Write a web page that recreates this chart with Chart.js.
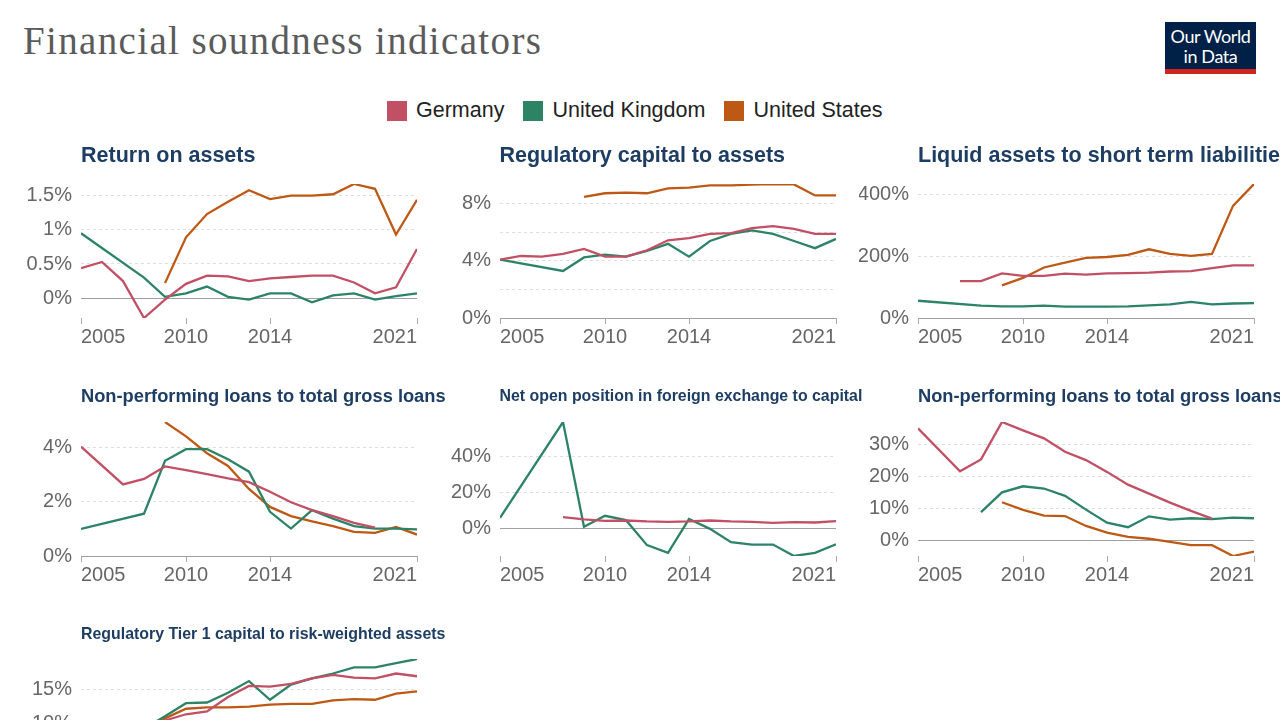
<!DOCTYPE html>
<html>
<head>
<meta charset="utf-8">
<script src="https://cdn.jsdelivr.net/npm/chart.js@4.4.1/dist/chart.umd.min.js"></script>
<style>
html,body{margin:0;padding:0;width:1280px;height:720px;overflow:hidden;background:#fff;font-family:"Liberation Sans",Arial,sans-serif;}
#title{position:absolute;left:23px;top:18px;font-family:"Liberation Serif",serif;font-size:39px;letter-spacing:1.35px;color:#5b5b5b;line-height:1.2;white-space:nowrap;}
#logo{position:absolute;left:1165px;top:22px;width:91px;height:52px;background:#002147;color:#fff;font-family:Lato,sans-serif;font-size:18px;line-height:20px;text-align:center;box-sizing:border-box;padding-top:4px;letter-spacing:-0.4px;}
#logo .bar{position:absolute;left:0;right:0;bottom:0;height:5px;background:#ce261e;}
#legend{position:absolute;left:387px;top:98px;display:flex;align-items:center;font-size:21.5px;color:#222;white-space:nowrap;}
#legend .sw{width:20px;height:20px;margin-right:9px;}
#legend .it{display:flex;align-items:center;margin-right:19px;}
.ptitle{position:absolute;font-weight:bold;color:#1d3d63;white-space:nowrap;line-height:1.2;}
.panel{position:absolute;width:400px;height:189px;}
</style>
</head>
<body>
<div id="title">Financial soundness indicators</div>
<div id="logo">Our World<br>in Data<div class="bar"></div></div>
<div id="legend"></div>
<div id="panels"></div>
<script>
// ---- Data ----
const years = [2005,2006,2007,2008,2009,2010,2011,2012,2013,2014,2015,2016,2017,2018,2019,2020,2021];
const countries = ["Germany","United Kingdom","United States"];
const countryColors = ["#c15065","#2c8465","#be5915"];
const xTickYears = [2005,2010,2014,2021];

// Return on assets (%)
const roaGermany = [0.44,0.53,0.25,-0.29,-0.02,0.21,0.33,0.32,0.25,0.29,0.31,0.33,0.33,0.23,0.07,0.16,0.72];
const roaUK      = [0.95,null,null,0.30,0.02,0.07,0.17,0.02,-0.02,0.07,0.07,-0.06,0.04,0.07,-0.02,0.03,0.07];
const roaUS      = [null,null,null,null,0.22,0.89,1.23,1.41,1.58,1.45,1.50,1.50,1.52,1.67,1.60,0.93,1.44];

// Regulatory capital to assets (%)
const capGermany = [4.1,4.35,4.3,4.5,4.85,4.3,4.3,4.75,5.45,5.6,5.9,5.95,6.3,6.45,6.25,5.9,5.9];
const capUK      = [4.1,null,null,3.3,4.25,4.45,4.3,4.7,5.2,4.3,5.4,5.9,6.15,5.9,5.4,4.9,5.55];
const capUS      = [null,null,null,null,8.5,8.75,8.8,8.75,9.1,9.15,9.3,9.3,9.35,9.4,9.37,8.6,8.6];

// Liquid assets to short term liabilities (%)
const liqGermany = [null,null,120,120,145,137,137,144,141,145,146,147,151,152,162,171,171];
const liqUK      = [56,null,null,40,38,38,40,37,37,37,38,41,44,52,44,47,48];
const liqUS      = [null,null,null,null,106,130,164,180,195,198,205,223,208,202,208,364,435];

// Non-performing loans to total gross loans (%)
const nplGermany = [4.03,null,2.64,2.84,3.3,3.17,3.02,2.86,2.72,2.37,1.98,1.69,1.47,1.22,1.05,null,null];
const nplUK      = [1.0,null,null,1.56,3.51,3.94,3.94,3.57,3.11,1.63,1.01,1.69,1.38,1.1,1.01,1.01,0.98];
const nplUS      = [null,null,null,null,4.94,4.41,3.79,3.32,2.47,1.81,1.47,1.28,1.1,0.89,0.85,1.07,0.79];

// Net open position in foreign exchange to capital (%)
const fxGermany = [null,null,null,6.5,5.2,4.4,4.6,4.1,3.9,4.1,4.6,4.1,3.9,3.3,3.7,3.5,4.3];
const fxUK      = [6.1,null,null,59,1.1,7.2,4.8,-9,-13.3,5.4,0,-7.4,-8.7,-8.7,-15,-13.3,-8.5];

// Non-performing loans net of provisions to capital (%)
const nplCapGermany = [34.9,null,21.5,25.2,36.9,34.3,31.8,27.6,25.0,21.3,17.3,14.5,11.7,9.1,6.7,null,null];
const nplCapUK      = [null,null,null,8.7,14.9,16.8,16.1,13.8,9.5,5.4,4.0,7.4,6.4,6.8,6.5,7.0,6.8];
const nplCapUS      = [null,null,null,null,11.8,9.4,7.6,7.5,4.4,2.3,1.0,0.4,-0.6,-1.6,-1.6,-5.0,-3.6];

// Regulatory Tier 1 capital to risk-weighted assets (%)
const t1Germany = [null,null,null,9.0,10.5,11.4,11.8,13.9,15.5,15.4,15.8,16.6,17.1,16.7,16.6,17.3,16.9];
const t1UK      = [null,null,null,9.3,11.1,13.0,13.1,14.5,16.2,13.5,15.7,16.6,17.3,18.2,18.2,18.8,19.4];
const t1US      = [null,null,null,9.2,10.8,12.2,12.4,12.4,12.5,12.8,12.9,12.9,13.4,13.6,13.5,14.4,14.7];

// ---- Panels ----
const panels = [
  {title:"Return on assets", size:21.5, col:0, row:0, series:[roaGermany,roaUK,roaUS], ticks:[0,0.5,1,1.5], labels:[0,0.5,1,1.5]},
  {title:"Regulatory capital to assets", size:21.5, col:1, row:0, series:[capGermany,capUK,capUS], ticks:[0,2,4,6,8], labels:[0,4,8]},
  {title:"Liquid assets to short term liabilities", size:21.5, col:2, row:0, series:[liqGermany,liqUK,liqUS], ticks:[0,200,400], labels:[0,200,400]},
  {title:"Non-performing loans to total gross loans", size:18.3, col:0, row:1, series:[nplGermany,nplUK,nplUS], ticks:[0,2,4], labels:[0,2,4]},
  {title:"Net open position in foreign exchange to capital", size:15.9, col:1, row:1, series:[fxGermany,fxUK,null], ticks:[0,20,40], labels:[0,20,40]},
  {title:"Non-performing loans to total gross loans net of provisions to capital", size:18.3, col:2, row:1, series:[nplCapGermany,nplCapUK,nplCapUS], ticks:[0,10,20,30], labels:[0,10,20,30]},
  {title:"Regulatory Tier 1 capital to risk-weighted assets", size:15.9, col:0, row:2, series:[t1Germany,t1UK,t1US], ticks:[0,5,10,15], labels:[0,5,10,15]}
];

// legend
const legend = document.getElementById('legend');
countries.forEach((c,i)=>{
  const it = document.createElement('div'); it.className='it';
  it.innerHTML = '<div class="sw" style="background:'+countryColors[i]+'"></div><span>'+c+'</span>';
  legend.appendChild(it);
});

Chart.defaults.font.family = '"Liberation Sans", Arial, sans-serif';
const plotLefts = [81, 499.5, 918];
const plotTops = [182, 420, 657];
const titleCenters = [156, 395.5, 633];
const host = document.getElementById('panels');

function fmt(v){ return (Math.round(v*100)/100) + '%'; }

panels.forEach((p,pi)=>{
  const t = document.createElement('div');
  t.className='ptitle';
  t.textContent = p.title;
  t.style.fontSize = p.size+'px';
  t.style.left = plotLefts[p.col]+'px';
  t.style.top = (titleCenters[p.row] - p.size*0.5885)+'px';
  document.body.appendChild(t);

  const d = document.createElement('div');
  d.className='panel';
  d.style.left = (plotLefts[p.col]-59)+'px';
  d.style.top = (plotTops[p.row]-19)+'px';
  const cv = document.createElement('canvas');
  d.appendChild(cv);
  host.appendChild(d);

  let all = [];
  const datasets = [];
  p.series.forEach((arr,si)=>{
    if(!arr) return;
    arr.forEach(v=>{ if(v!==null) all.push(v); });
    datasets.push({
      label: countries[si],
      data: years.map((y,i)=>({x:y, y:arr[i]})),
      borderColor: countryColors[si],
      backgroundColor: countryColors[si],
      borderWidth: 2.3,
      pointRadius: 0,
      tension: 0,
      spanGaps: true,
      fill: false
    });
  });
  const ymin = Math.min(0, ...all);
  const ymax = Math.max(...all);

  new Chart(cv, {
    type:'line',
    data:{datasets},
    options:{
      responsive:true,
      maintainAspectRatio:false,
      animation:false,
      layout:{padding:{top:14,right:5,left:0,bottom:0}},
      plugins:{legend:{display:false},tooltip:{enabled:false}},
      scales:{
        x:{
          type:'linear', min:2005, max:2021,
          afterBuildTicks: s => { s.ticks = xTickYears.map(v=>({value:v})); },
          afterFit: s => { s.height = 34; },
          grid:{drawOnChartArea:false, drawTicks:true, tickLength:6, color:'#aaa'},
          border:{display:false},
          ticks:{align:'inner', padding:1, color:'#666', font:{size:20}, maxRotation:0, autoSkip:false,
                 callback: v => String(v)}
        },
        y:{
          min:ymin, max:ymax,
          afterBuildTicks: s => { s.ticks = p.ticks.map(v=>({value:v})); },
          afterFit: s => { s.width = 59; },
          grid:{drawTicks:false, lineWidth:1,
                color: c => (c.tick && c.tick.value===0) ? '#a0a0a0' : '#dedede'},
          border:{display:false, dash: c => (c.tick && c.tick.value===0) ? [] : [3,3]},
          ticks:{padding:9, color:'#666', font:{size:20}, autoSkip:false,
                 callback: v => p.labels.includes(v) ? fmt(v) : ''}
        }
      }
    }
  });
});
</script>
</body>
</html>
